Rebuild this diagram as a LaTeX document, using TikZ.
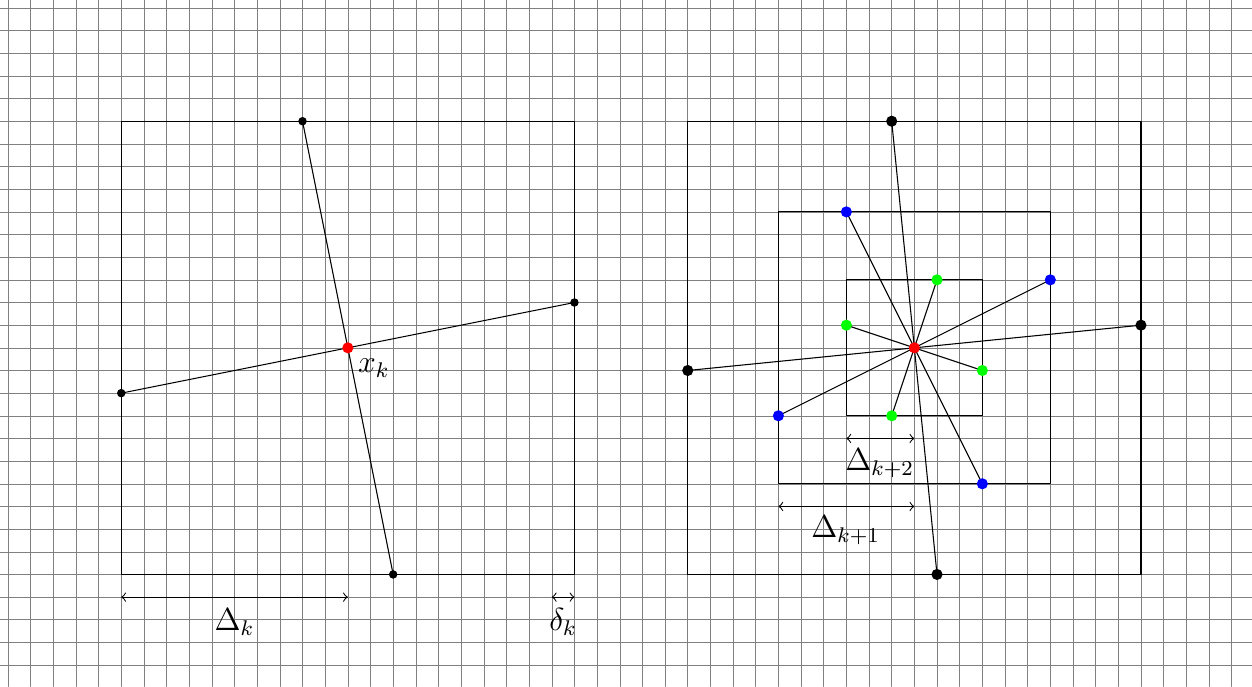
\documentclass[tikz,border=0pt]{standalone}
\usepackage{amsmath,amssymb}
\usetikzlibrary{calc}

\tikzset{
  smalldot/.style={circle, fill=black, inner sep=0pt, minimum size=3.2pt},
  dot/.style={circle, fill=#1, inner sep=0pt, minimum size=4.2pt},
  lbl/.style={font=\large, inner sep=1pt},
}

\begin{document}
\begin{tikzpicture}[line join=round, line cap=round, x=0.3cm, y=0.3cm]
    % frame and grid
    \useasboundingbox (-5.35,-4.95) rectangle (49.9,25.35);
    \draw[help lines, step=0.3cm] (-5.35,-4.95) grid (49.9,25.35);

    % left square: one step
    \draw (0,0) rectangle (20,20);
    \coordinate (T) at (8,20);
    \coordinate (B) at (12,0);
    \coordinate (L) at (0,8);
    \coordinate (R) at (20,12);
    \coordinate (X) at (10,10);
    \draw (T) -- (B);
    \draw (L) -- (R);
    \foreach \p in {T,B,L,R} {
      \node[smalldot] (n\p) at (\p) {};
    }
    \node[dot=red] (xk) at (X) {};
    \node[lbl] (xklabel) at (11.15,9.1) {$x_k$};

    % step sizes below
    \coordinate (d0) at (0,-1);
    \coordinate (d1) at (10,-1);
    \coordinate (e0) at (19,-1);
    \coordinate (e1) at (20,-1);
    \draw[<->] (d0) -- (d1);
    \draw[<->] (e0) -- (e1);
    \node[lbl] (Dk) at (5,-2.1) {$\Delta_k$};
    \node[lbl] (dk) at (19.5,-2.1) {$\delta_k$};

    % right squares: shrinking steps
    \draw (25,0) rectangle (45,20);
    \draw (29,4) rectangle (41,16);
    \draw (32,7) rectangle (38,13);
    \coordinate (C) at (35,10);

    \foreach \name/\pos in {a1/{34,20}, a2/{36,0}, a3/{25,9}, a4/{45,11},
                            b1/{32,16}, b2/{38,4}, b3/{41,13}, b4/{29,7},
                            c1/{36,13}, c2/{34,7}, c3/{32,11}, c4/{38,9}} {
      \coordinate (\name) at (\pos);
      \draw (C) -- (\name);
    }
    \foreach \i in {1,...,4} {
      \node[dot=black] (na\i) at (a\i) {};
      \node[dot=blue]  (nb\i) at (b\i) {};
      \node[dot=green] (nc\i) at (c\i) {};
    }
    \node[dot=red] (xc) at (C) {};

    \coordinate (f0) at (32,6);
    \coordinate (f1) at (35,6);
    \coordinate (g0) at (29,3);
    \coordinate (g1) at (35,3);
    \draw[<->] (f0) -- (f1);
    \draw[<->] (g0) -- (g1);
    \node[lbl] (Dk2) at (33.47,4.9) {$\Delta_{k+2}$};
    \node[lbl] (Dk1) at (31.97,1.94) {$\Delta_{k+1}$};
  \end{tikzpicture}
\end{document}
